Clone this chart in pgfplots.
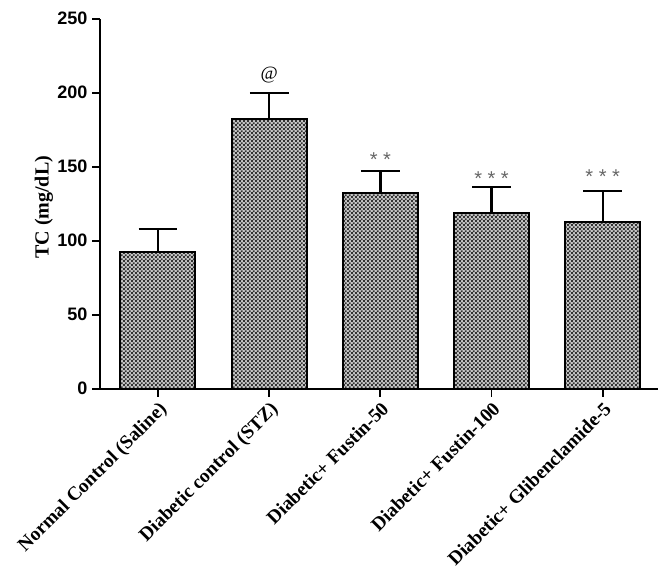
\documentclass[border=0pt]{standalone}
\usepackage{pgfplots}
\pgfplotsset{compat=1.18}
\usepackage{fontspec}
\setmainfont{Liberation Serif}
\newfontfamily\arialfont{Liberation Sans}
\usetikzlibrary{patterns}
\pgfdeclarepatternformonly{finecheck}{\pgfpointorigin}{\pgfpoint{3.2pt}{3.2pt}}{\pgfpoint{3.2pt}{3.2pt}}{%
  \pgfpathrectangle{\pgfpointorigin}{\pgfpoint{1.6pt}{1.6pt}}%
  \pgfpathrectangle{\pgfpoint{1.6pt}{1.6pt}}{\pgfpoint{1.6pt}{1.6pt}}%
  \pgfusepath{fill}}
\begin{document}
\begin{tikzpicture}
\begin{axis}[
  name=ax,
  scale only axis, width=418pt, height=277pt,
  xmin=-0.52, xmax=4.5, ymin=0, ymax=250,
  axis x line*=bottom, axis y line*=left,
  axis line style={line width=1.6pt},
  tick style={line width=1.4pt, black},
  tick align=outside, major tick length=6pt,
  ytick={0,50,100,150,200,250},
  xtick={0,1,2,3,4},
  xticklabels={Normal Control (Saline),Diabetic control (STZ),Diabetic+ Fustin-50,Diabetic+ Fustin-100,Diabetic+ Glibenclamide-5},
  x tick label style={font=\bfseries\fontsize{14.5}{15}\selectfont, rotate=45, anchor=north east, inner sep=2pt},
  y tick label style={font=\arialfont\bfseries\fontsize{13.5}{14}\selectfont},
  /pgf/number format/assume math mode=true,
  ylabel={\bfseries TC (mg/dL)},
  ylabel style={font=\fontsize{15}{16}\selectfont, at={(axis description cs:-0.076,0.49)}},
  clip=false,
]
\addplot[ybar, bar width=0.675, draw=black, line width=1.5pt, fill=gray!45,
  postaction={pattern=finecheck, pattern color=black!80},
  error bars/.cd, y dir=plus, y explicit,
  error bar style={line width=1.8pt, black},
  error mark options={rotate=90, line width=1.8pt, mark size=14.5pt, black}]
coordinates {
  (0,92.6) +- (0,15.4)
  (1,182.4) +- (0,17.4)
  (2,131.9) +- (0,15.1)
  (3,118.7) +- (0,17.6)
  (4,112.8) +- (0,20.6)
};
\node[font=\fontsize{14}{14}\selectfont] at (axis cs:1,212) {@};
\node[font=\arialfont\fontsize{15}{15}\selectfont, text=gray!80!black] at (axis cs:2,155) {* *};
\node[font=\arialfont\fontsize{15}{15}\selectfont, text=gray!80!black] at (axis cs:3,142) {* * *};
\node[font=\arialfont\fontsize{15}{15}\selectfont, text=gray!80!black] at (axis cs:4,143) {* * *};
\end{axis}
\pgfresetboundingbox
\path ([shift={(-75pt,-145pt)}]ax.south west) rectangle ([shift={(8pt,14pt)}]ax.north east);
\end{tikzpicture}
\end{document}
